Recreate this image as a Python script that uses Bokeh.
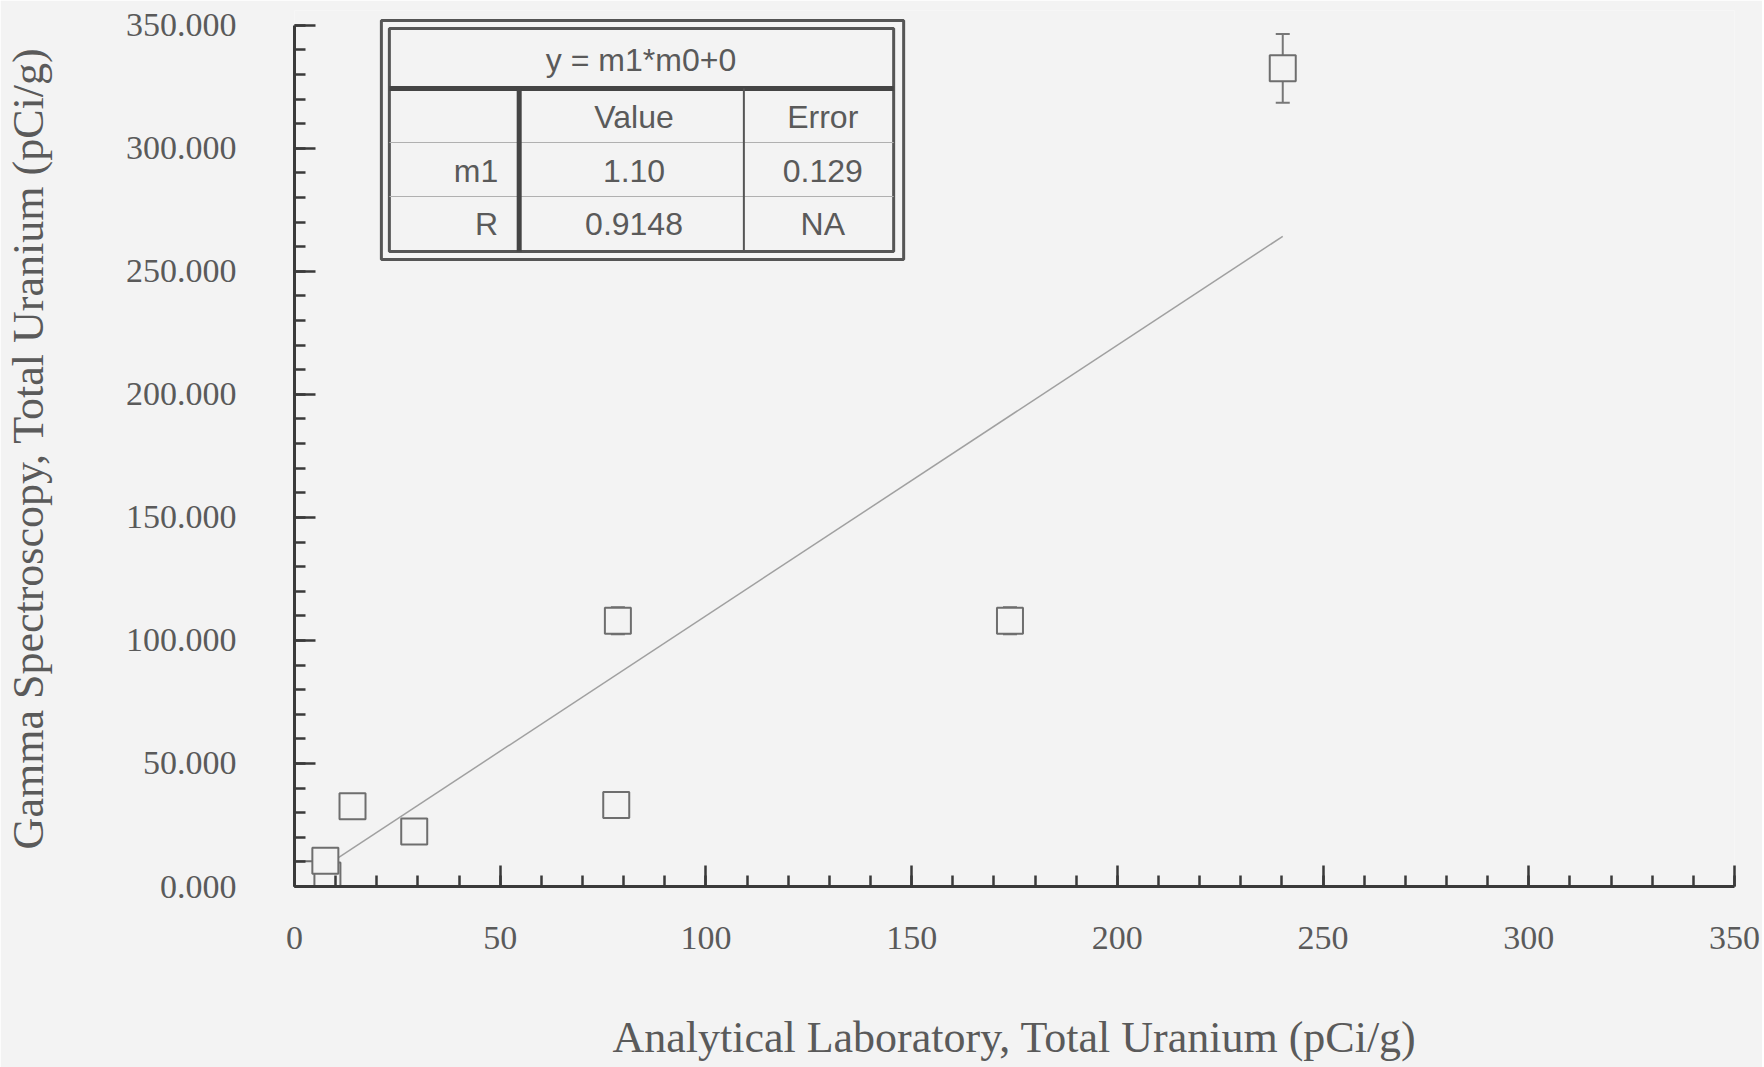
from bokeh.plotting import figure
from bokeh.models import (FixedTicker, PrintfTickFormatter, Whisker, ColumnDataSource,
                          TeeHead, Range1d)
from bokeh.core.properties import value
from bokeh.embed import file_html
from bokeh.resources import INLINE

# ---- data ----
x_lab = [3.2, 8.0, 7.5, 14.1, 29.1, 78.2, 78.6, 173.9, 240.2]
y_gamma = [5.0, 4.5, 10.5, 32.6, 22.4, 33.1, 108.0, 108.0, 332.5]
y_err = [0.0, 0.0, 5.0, 0.0, 0.0, 0.0, 5.5, 5.5, 14.0]

fit_equation = "y = m1*m0+0"
fit_rows = ["m1", "R"]
fit_values = ["1.10", "0.9148"]
fit_errors = ["0.129", "NA"]
m1 = 1.10

x_ticks = [0, 50, 100, 150, 200, 250, 300, 350]
y_ticks = [0, 50, 100, 150, 200, 250, 300, 350]
minor = list(range(0, 351, 10))

x_label = "Analytical Laboratory, Total Uranium (pCi/g)"
y_label = "Gamma Spectroscopy, Total Uranium (pCi/g)"

BG = "#f3f3f3"
TXT = "#5a5a5a"
AX = "#3a3a3a"
SERIF = "Liberation Serif"
SANS = "Liberation Sans"

W, H = 1762, 1067
FRAME_L, FRAME_R, FRAME_T, FRAME_B = 292, 1734, 10, 886
p = figure(width=W, height=H, output_backend="svg", toolbar_location=None,
           x_range=Range1d(0, 350), y_range=Range1d(0, 356),
           min_border_left=FRAME_L, min_border_right=W - FRAME_R, min_border_top=FRAME_T,
           min_border_bottom=H - FRAME_B,
           background_fill_color=BG, border_fill_color=BG)
p.outline_line_color = None
p.grid.visible = False

for ax, ticks in ((p.xaxis[0], x_ticks), (p.yaxis[0], y_ticks)):
    ax.ticker = FixedTicker(ticks=ticks, minor_ticks=minor)
    ax.bounds = (0, 350)
    ax.axis_line_color = AX
    ax.axis_line_width = 3
    ax.major_tick_line_color = AX
    ax.major_tick_line_width = 2.5
    ax.minor_tick_line_color = AX
    ax.minor_tick_line_width = 2.5
    ax.major_tick_in = 21
    ax.major_tick_out = 0
    ax.minor_tick_in = 11
    ax.minor_tick_out = 0
    ax.major_label_text_font = SERIF
    ax.major_label_text_font_size = "34px"
    ax.major_label_text_color = TXT
    ax.axis_label_text_font = SERIF
    ax.axis_label_text_font_size = "44px"
    ax.axis_label_text_font_style = "normal"
    ax.axis_label_text_color = TXT

p.xaxis[0].axis_label = x_label
p.yaxis[0].axis_label = y_label
p.yaxis[0].formatter = PrintfTickFormatter(format="%.3f")
p.xaxis[0].major_label_standoff = 40
p.yaxis[0].major_label_standoff = 58
p.xaxis[0].axis_label_standoff = 61
p.yaxis[0].axis_label_standoff = 70

px_per_x = (FRAME_R - FRAME_L) / 350
px_per_y = (FRAME_B - FRAME_T) / 356

# fit line y = m1 * x over data range
xf = [min(x_lab), max(x_lab)]
p.line(xf, [m1 * v for v in xf], line_color="#a0a0a0", line_width=1.5)

# error bars
ex = [x for x, e in zip(x_lab, y_err) if e > 0]
ey = [y for y, e in zip(y_gamma, y_err) if e > 0]
ee = [e for e in y_err if e > 0]
esrc = ColumnDataSource(dict(x=ex, upper=[y + e for y, e in zip(ey, ee)],
                             lower=[y - e for y, e in zip(ey, ee)]))
w = Whisker(base="x", upper="upper", lower="lower", source=esrc, level="underlay",
            line_color="#777777", line_width=2,
            upper_head=TeeHead(size=14, line_color="#777777", line_width=2),
            lower_head=TeeHead(size=14, line_color="#777777", line_width=2))
p.add_layout(w)

p.scatter(x_lab, y_gamma, marker="square", size=26, fill_color=BG,
          line_color="#6e6e6e", line_width=2)

# ---- fit table (annotation, positioned in data units) ----
def px2x(px):
    return (px - FRAME_L) / px_per_x

def px2y(py):
    return (FRAME_B - py) / px_per_y

L_o, R_o, T_o, B_o = px2x(379), px2x(902), px2y(20), px2y(259)
L_i, R_i, T_i, B_i = px2x(387), px2x(892), px2y(28), px2y(251)
p.quad(left=[L_o], right=[R_o], top=[T_o], bottom=[B_o], fill_color=BG,
       line_color="#555555", line_width=3)
p.quad(left=[L_i], right=[R_i], top=[T_i], bottom=[B_i], fill_color=None,
       line_color="#555555", line_width=3)
# header separator
p.segment(x0=[L_i], y0=[px2y(88)], x1=[R_i], y1=[px2y(88)], line_color="#444444", line_width=5)
# thin row lines
p.segment(x0=[L_i, L_i], y0=[px2y(142), px2y(196)], x1=[R_i, R_i],
          y1=[px2y(142), px2y(196)], line_color="#b0b0b0", line_width=1)
# column separators
p.segment(x0=[px2x(517)], y0=[px2y(88)], x1=[px2x(517)], y1=[B_i], line_color="#444444", line_width=5)
p.segment(x0=[px2x(742)], y0=[px2y(88)], x1=[px2x(742)], y1=[B_i], line_color="#555555", line_width=2)

tf = value(SANS)
fs = "32px"
p.text(x=[px2x(639)], y=[px2y(59)], text=[fit_equation], text_font=tf, text_font_size=fs,
       text_color=TXT, text_align="center", text_baseline="middle")
p.text(x=[px2x(632), px2x(821)], y=[px2y(116)] * 2, text=["Value", "Error"], text_font=tf,
       text_font_size=fs, text_color=TXT, text_align="center", text_baseline="middle")
row_y = [px2y(170), px2y(223)]
p.text(x=[px2x(496)] * 2, y=row_y, text=fit_rows, text_font=tf, text_font_size=fs,
       text_color=TXT, text_align="right", text_baseline="middle")
p.text(x=[px2x(632)] * 2, y=row_y, text=fit_values, text_font=tf, text_font_size=fs,
       text_color=TXT, text_align="center", text_baseline="middle")
p.text(x=[px2x(821)] * 2, y=row_y, text=fit_errors, text_font=tf, text_font_size=fs,
       text_color=TXT, text_align="center", text_baseline="middle")

open("out.html", "w").write(file_html(p, INLINE))
